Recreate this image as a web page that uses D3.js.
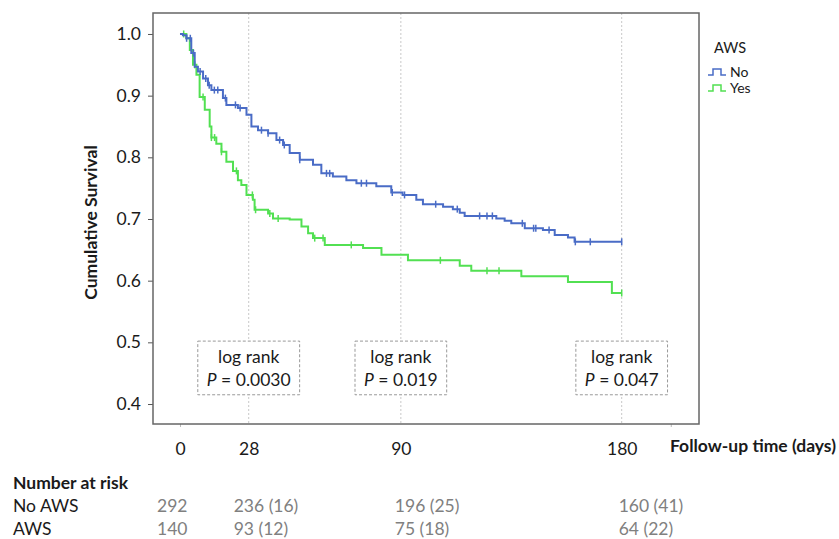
<!DOCTYPE html>
<html>
<head>
<meta charset="utf-8">
<script src="https://cdn.jsdelivr.net/npm/d3@7"></script>
<style>
  body { margin: 0; background: #fff; }
  svg { font-family: Lato, "Open Sans", sans-serif; }
</style>
</head>
<body>
<svg id="chart" width="839" height="539"></svg>
<script>
// survival steps, No AWS
const noTimes = [0, 1.2, 2.6, 4.6, 6.0, 7.3, 9.4, 11.4, 12.8, 17.5, 18.9, 23.6, 27.1, 29.1, 31.8, 35.9, 39.3, 42.0, 44.7, 48.8, 54.2, 57.6, 62.3, 67.8, 71.9, 80.0, 86.1, 90.7, 96.3, 99.0, 107.2, 111.2, 114.0, 116.0, 128.9, 132.3, 135.0, 140.5, 147.9, 152.7, 158.1, 160.8];
const noSurv  = [1.0, 0.998, 0.993, 0.969, 0.947, 0.939, 0.928, 0.917, 0.909, 0.896, 0.885, 0.880, 0.869, 0.850, 0.844, 0.839, 0.828, 0.820, 0.807, 0.796, 0.788, 0.774, 0.769, 0.763, 0.758, 0.753, 0.743, 0.739, 0.731, 0.724, 0.720, 0.716, 0.710, 0.705, 0.701, 0.697, 0.693, 0.685, 0.682, 0.674, 0.670, 0.663];
const noCensor = [2.7, 4.2, 5.5, 8.2, 10.5, 11.9, 14.0, 15.4, 18.5, 22.6, 24.5, 33.2, 35.9, 40.6, 42.5, 48.8, 59.7, 61.0, 73.9, 76.0, 86.5, 91.5, 104.2, 113.0, 122.1, 125.1, 127.3, 139.5, 144.1, 145.0, 150.4, 161.1, 167.2, 180];

// survival steps, AWS
const awsTimes = [0, 2.6, 4.0, 5.3, 6.7, 8.0, 10.1, 12.1, 12.8, 14.8, 16.9, 18.9, 21.6, 23.6, 25.0, 27.1, 29.7, 30.4, 35.9, 37.9, 44.7, 49.5, 52.2, 54.2, 59.0, 74.6, 82.1, 92.9, 114.0, 118.7, 139.1, 158.1, 176.0];
const awsSurv  = [1.0, 0.993, 0.974, 0.950, 0.934, 0.898, 0.877, 0.850, 0.832, 0.822, 0.809, 0.793, 0.778, 0.763, 0.755, 0.739, 0.731, 0.715, 0.709, 0.701, 0.699, 0.688, 0.677, 0.669, 0.658, 0.653, 0.642, 0.633, 0.624, 0.616, 0.607, 0.598, 0.580];
const awsCensor = [1.5, 6.0, 9.4, 12.8, 14.1, 16.9, 23.0, 29.5, 30.8, 36.6, 40.0, 54.9, 58.3, 69.8, 106.1, 125.1, 130.0, 180];

const endTime = 180;

const xTicks = [0, 28, 90, 180];
const xMinorTicks = [0, 200];
const yTicks = [0.4, 0.5, 0.6, 0.7, 0.8, 0.9, 1.0];

const pTimes = [28, 90, 180];
const pValues = ["0.0030", "0.019", "0.047"];

const riskTimes = [0, 28, 90, 180];
const riskNo = ["292", "236 (16)", "196 (25)", "160 (41)"];
const riskAws = ["140", "93 (12)", "75 (18)", "64 (22)"];

const groups = ["No", "Yes"];
const colors = ["#4a6cc6", "#52e052"];

const svg = d3.select("#chart");
const frame = { left: 153, top: 13, right: 699, bottom: 424 };

const x = d3.scaleLinear().domain([-11, 211.5]).range([frame.left, frame.right]);
const y = d3.scaleLinear().domain([0.3676, 1.034]).range([frame.bottom, frame.top]);

const textColor = "#1a1a1a";
const fs = "17.5px";

// reference lines
svg.selectAll(".ref")
  .data(pTimes)
  .enter().append("line")
  .attr("x1", d => x(d)).attr("x2", d => x(d))
  .attr("y1", frame.top).attr("y2", frame.bottom)
  .attr("stroke", "#c8c8c8")
  .attr("stroke-width", 1)
  .attr("stroke-dasharray", "2,2");

// y axis
const yAxis = d3.axisLeft(y).tickValues(yTicks).tickFormat(d3.format(".1f")).tickSize(5).tickPadding(7);
const gy = svg.append("g").attr("transform", `translate(${frame.left},0)`).call(yAxis);
gy.select(".domain").remove();
gy.selectAll(".tick line").attr("stroke", "#555");
gy.selectAll(".tick text").attr("fill", textColor).style("font-size", fs).style("font-family", "Lato, sans-serif");

// x axis labels (no tick lines at these)
const xAxis = d3.axisBottom(x).tickValues(xTicks).tickSize(0).tickPadding(19);
const gx = svg.append("g").attr("transform", `translate(0,${frame.bottom})`).call(xAxis);
gx.select(".domain").remove();
gx.selectAll(".tick text").attr("fill", textColor).style("font-size", fs).style("font-family", "Lato, sans-serif");

// faint minor ticks
const gm = svg.append("g").attr("transform", `translate(0,${frame.bottom})`)
  .call(d3.axisBottom(x).tickValues(xMinorTicks).tickSize(3).tickFormat(""));
gm.select(".domain").remove();
gm.selectAll(".tick line").attr("stroke", "#bbb");

// frame
svg.append("rect")
  .attr("x", frame.left).attr("y", frame.top)
  .attr("width", frame.right - frame.left).attr("height", frame.bottom - frame.top)
  .attr("fill", "none").attr("stroke", "#666").attr("stroke-width", 1.5);

// axis titles
svg.append("text")
  .attr("transform", `translate(97,${(frame.top + frame.bottom) / 2 + 4}) rotate(-90)`)
  .attr("text-anchor", "middle")
  .attr("fill", textColor)
  .style("font-size", fs).style("font-weight", "bold")
  .text("Cumulative Survival");

svg.append("text")
  .attr("x", 670).attr("y", 452)
  .attr("fill", textColor)
  .style("font-size", fs).style("font-weight", "bold")
  .text("Follow-up time (days)");

// log rank boxes
const boxTop = y(0.502), boxBottom = y(0.415);
pTimes.forEach((t, i) => {
  const g = svg.append("g");
  const rect = g.append("rect");
  const t1 = g.append("text")
    .attr("x", x(t)).attr("y", boxTop + 22)
    .attr("text-anchor", "middle").attr("fill", textColor)
    .style("font-size", fs)
    .text("log rank");
  const t2 = g.append("text")
    .attr("x", x(t)).attr("y", boxTop + 45)
    .attr("text-anchor", "middle").attr("fill", textColor)
    .style("font-size", fs);
  t2.append("tspan").style("font-style", "italic").text("P");
  t2.append("tspan").text(" = " + pValues[i]);
  const w = Math.max(t1.node().getComputedTextLength(), t2.node().getComputedTextLength()) + 18;
  rect.attr("x", x(t) - w / 2).attr("y", boxTop)
    .attr("width", w).attr("height", boxBottom - boxTop)
    .attr("fill", "#fff").attr("stroke", "#999").attr("stroke-width", 1)
    .attr("stroke-dasharray", "3,2");
});

// curves
const line = d3.line().x(d => x(d[0])).y(d => y(d[1])).curve(d3.curveStepAfter);

function drawGroup(times, surv, censor, color) {
  const pts = times.map((t, i) => [t, surv[i]]);
  pts.push([endTime, surv[surv.length - 1]]);
  svg.append("path")
    .datum(pts)
    .attr("fill", "none")
    .attr("stroke", color)
    .attr("stroke-width", 2)
    .attr("d", line);

  const survAt = t => surv[Math.max(0, d3.bisectRight(times, t) - 1)];
  svg.selectAll(null)
    .data(censor)
    .enter().append("line")
    .attr("x1", d => x(d)).attr("x2", d => x(d))
    .attr("y1", d => y(survAt(d)) - 3.5)
    .attr("y2", d => y(survAt(d)) + 3.5)
    .attr("stroke", color)
    .attr("stroke-width", 1.5);
}

drawGroup(awsTimes, awsSurv, awsCensor, colors[1]);
drawGroup(noTimes, noSurv, noCensor, colors[0]);

// legend
svg.append("text")
  .attr("x", 714).attr("y", 53)
  .attr("fill", textColor)
  .style("font-size", "14.5px")
  .text("AWS");

groups.forEach((g, i) => {
  const ly = 77 + i * 16;
  svg.append("path")
    .attr("d", `M708,${ly - 2}H713V${ly - 8}H721V${ly - 2}H726`)
    .attr("fill", "none")
    .attr("stroke", colors[i])
    .attr("stroke-width", 1.5);
  svg.append("text")
    .attr("x", 730).attr("y", ly)
    .attr("fill", textColor)
    .style("font-size", "14px")
    .text(g);
});

// number at risk
const riskOffset = [23, 15, 6, 3];
svg.append("text")
  .attr("x", 13).attr("y", 489)
  .attr("fill", textColor)
  .style("font-size", fs).style("font-weight", "bold")
  .text("Number at risk");

[["No AWS", riskNo, 512], ["AWS", riskAws, 535]].forEach(([label, vals, ry]) => {
  svg.append("text")
    .attr("x", 13).attr("y", ry)
    .attr("fill", textColor)
    .style("font-size", fs)
    .text(label);
  svg.selectAll(null)
    .data(vals)
    .enter().append("text")
    .attr("x", (d, i) => x(riskTimes[i]) - riskOffset[i])
    .attr("y", ry)
    .attr("fill", "#808080")
    .style("font-size", fs)
    .text(d => d);
});
</script>
</body>
</html>
